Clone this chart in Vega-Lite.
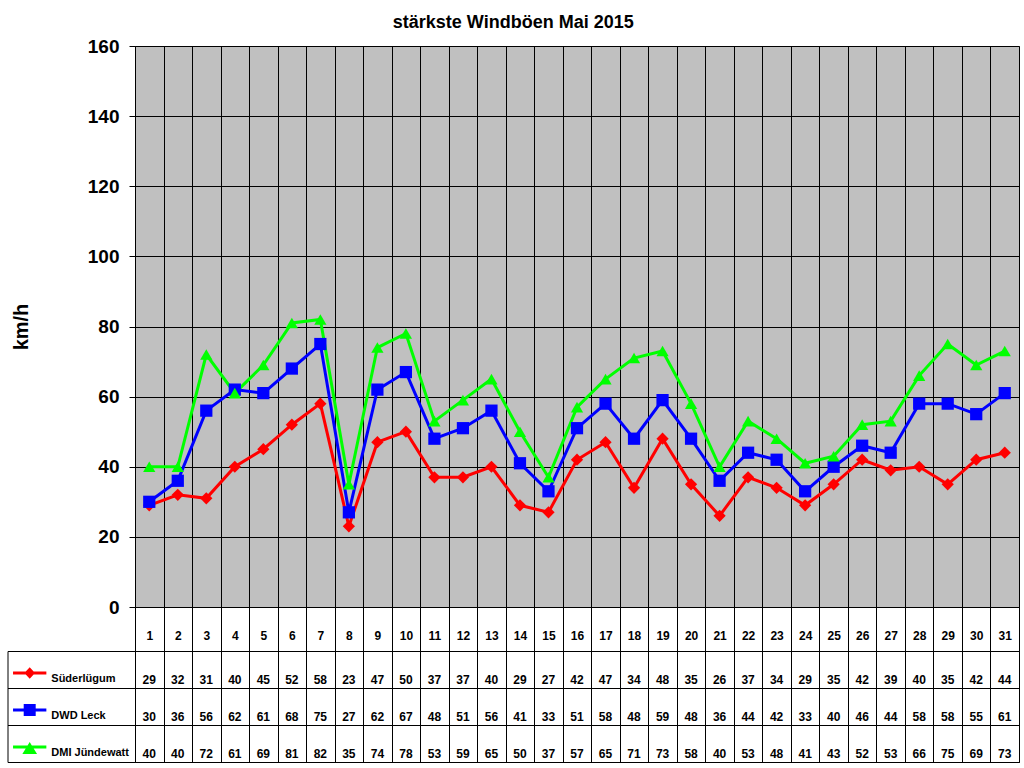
{
  "$schema": "https://vega.github.io/schema/vega-lite/v6.json",
  "padding": {"left": 6, "top": 13, "right": 6, "bottom": 4},
  "background": "white",
  "bounds": "flush",
  "spacing": 44,
  "title": {"text": "stärkste Windböen Mai 2015", "font": "Liberation Sans", "fontSize": 18, "fontWeight": "bold", "color": "black", "anchor": "middle", "offset": 5},
  "resolve": {"scale": {"shape": "independent"}, "legend": {"color": "independent", "shape": "independent"}},
  "config": {
    "font": "Liberation Sans",
    "axis": {"gridColor": "black", "gridOpacity": 1, "gridWidth": 1, "domainColor": "black", "tickColor": "black", "labelColor": "black", "titleColor": "black"}
  },
  "datasets": {
    "wind": [
      {"day": 1, "station": "Süderlügum", "kmh": 29}, {"day": 2, "station": "Süderlügum", "kmh": 32}, {"day": 3, "station": "Süderlügum", "kmh": 31}, {"day": 4, "station": "Süderlügum", "kmh": 40}, {"day": 5, "station": "Süderlügum", "kmh": 45}, {"day": 6, "station": "Süderlügum", "kmh": 52}, {"day": 7, "station": "Süderlügum", "kmh": 58}, {"day": 8, "station": "Süderlügum", "kmh": 23}, {"day": 9, "station": "Süderlügum", "kmh": 47}, {"day": 10, "station": "Süderlügum", "kmh": 50}, {"day": 11, "station": "Süderlügum", "kmh": 37}, {"day": 12, "station": "Süderlügum", "kmh": 37}, {"day": 13, "station": "Süderlügum", "kmh": 40}, {"day": 14, "station": "Süderlügum", "kmh": 29}, {"day": 15, "station": "Süderlügum", "kmh": 27}, {"day": 16, "station": "Süderlügum", "kmh": 42}, {"day": 17, "station": "Süderlügum", "kmh": 47}, {"day": 18, "station": "Süderlügum", "kmh": 34}, {"day": 19, "station": "Süderlügum", "kmh": 48}, {"day": 20, "station": "Süderlügum", "kmh": 35}, {"day": 21, "station": "Süderlügum", "kmh": 26}, {"day": 22, "station": "Süderlügum", "kmh": 37}, {"day": 23, "station": "Süderlügum", "kmh": 34}, {"day": 24, "station": "Süderlügum", "kmh": 29}, {"day": 25, "station": "Süderlügum", "kmh": 35}, {"day": 26, "station": "Süderlügum", "kmh": 42}, {"day": 27, "station": "Süderlügum", "kmh": 39}, {"day": 28, "station": "Süderlügum", "kmh": 40}, {"day": 29, "station": "Süderlügum", "kmh": 35}, {"day": 30, "station": "Süderlügum", "kmh": 42}, {"day": 31, "station": "Süderlügum", "kmh": 44},
      {"day": 1, "station": "DWD Leck", "kmh": 30}, {"day": 2, "station": "DWD Leck", "kmh": 36}, {"day": 3, "station": "DWD Leck", "kmh": 56}, {"day": 4, "station": "DWD Leck", "kmh": 62}, {"day": 5, "station": "DWD Leck", "kmh": 61}, {"day": 6, "station": "DWD Leck", "kmh": 68}, {"day": 7, "station": "DWD Leck", "kmh": 75}, {"day": 8, "station": "DWD Leck", "kmh": 27}, {"day": 9, "station": "DWD Leck", "kmh": 62}, {"day": 10, "station": "DWD Leck", "kmh": 67}, {"day": 11, "station": "DWD Leck", "kmh": 48}, {"day": 12, "station": "DWD Leck", "kmh": 51}, {"day": 13, "station": "DWD Leck", "kmh": 56}, {"day": 14, "station": "DWD Leck", "kmh": 41}, {"day": 15, "station": "DWD Leck", "kmh": 33}, {"day": 16, "station": "DWD Leck", "kmh": 51}, {"day": 17, "station": "DWD Leck", "kmh": 58}, {"day": 18, "station": "DWD Leck", "kmh": 48}, {"day": 19, "station": "DWD Leck", "kmh": 59}, {"day": 20, "station": "DWD Leck", "kmh": 48}, {"day": 21, "station": "DWD Leck", "kmh": 36}, {"day": 22, "station": "DWD Leck", "kmh": 44}, {"day": 23, "station": "DWD Leck", "kmh": 42}, {"day": 24, "station": "DWD Leck", "kmh": 33}, {"day": 25, "station": "DWD Leck", "kmh": 40}, {"day": 26, "station": "DWD Leck", "kmh": 46}, {"day": 27, "station": "DWD Leck", "kmh": 44}, {"day": 28, "station": "DWD Leck", "kmh": 58}, {"day": 29, "station": "DWD Leck", "kmh": 58}, {"day": 30, "station": "DWD Leck", "kmh": 55}, {"day": 31, "station": "DWD Leck", "kmh": 61},
      {"day": 1, "station": "DMI Jündewatt", "kmh": 40}, {"day": 2, "station": "DMI Jündewatt", "kmh": 40}, {"day": 3, "station": "DMI Jündewatt", "kmh": 72}, {"day": 4, "station": "DMI Jündewatt", "kmh": 61}, {"day": 5, "station": "DMI Jündewatt", "kmh": 69}, {"day": 6, "station": "DMI Jündewatt", "kmh": 81}, {"day": 7, "station": "DMI Jündewatt", "kmh": 82}, {"day": 8, "station": "DMI Jündewatt", "kmh": 35}, {"day": 9, "station": "DMI Jündewatt", "kmh": 74}, {"day": 10, "station": "DMI Jündewatt", "kmh": 78}, {"day": 11, "station": "DMI Jündewatt", "kmh": 53}, {"day": 12, "station": "DMI Jündewatt", "kmh": 59}, {"day": 13, "station": "DMI Jündewatt", "kmh": 65}, {"day": 14, "station": "DMI Jündewatt", "kmh": 50}, {"day": 15, "station": "DMI Jündewatt", "kmh": 37}, {"day": 16, "station": "DMI Jündewatt", "kmh": 57}, {"day": 17, "station": "DMI Jündewatt", "kmh": 65}, {"day": 18, "station": "DMI Jündewatt", "kmh": 71}, {"day": 19, "station": "DMI Jündewatt", "kmh": 73}, {"day": 20, "station": "DMI Jündewatt", "kmh": 58}, {"day": 21, "station": "DMI Jündewatt", "kmh": 40}, {"day": 22, "station": "DMI Jündewatt", "kmh": 53}, {"day": 23, "station": "DMI Jündewatt", "kmh": 48}, {"day": 24, "station": "DMI Jündewatt", "kmh": 41}, {"day": 25, "station": "DMI Jündewatt", "kmh": 43}, {"day": 26, "station": "DMI Jündewatt", "kmh": 52}, {"day": 27, "station": "DMI Jündewatt", "kmh": 53}, {"day": 28, "station": "DMI Jündewatt", "kmh": 66}, {"day": 29, "station": "DMI Jündewatt", "kmh": 75}, {"day": 30, "station": "DMI Jündewatt", "kmh": 69}, {"day": 31, "station": "DMI Jündewatt", "kmh": 73}
    ]
  },
  "vconcat": [
    {
      "width": 884,
      "height": 561,
      "data": {"name": "wind"},
      "view": {"fill": "#C0C0C0", "stroke": "#808080"},
      "encoding": {
        "x": {
          "field": "day", "type": "ordinal",
          "scale": {"type": "band", "paddingInner": 0, "paddingOuter": 0},
          "axis": {"title": null, "labelAngle": 0, "tickBand": "extent", "tickSize": 44, "grid": true, "labelPadding": -21,
                   "labelFont": "Liberation Sans", "labelFontSize": 12, "labelFontWeight": "bold", "labelBaseline": "top"}
        },
        "y": {
          "field": "kmh", "type": "quantitative",
          "scale": {"domain": [0, 160], "nice": false},
          "axis": {"values": [0, 20, 40, 60, 80, 100, 120, 140, 160], "title": "km/h", "titleFontSize": 20, "titleFontWeight": "bold", "titlePadding": 56,
                   "labelFontSize": 19, "labelFontWeight": "bold", "labelPadding": 10, "tickSize": 6, "grid": true}
        },
        "color": {
          "field": "station", "type": "nominal",
          "scale": {"domain": ["Süderlügum", "DWD Leck", "DMI Jündewatt"], "range": ["#FF0000", "#0000FF", "#00FF00"]},
          "legend": null
        }
      },
      "layer": [
        {"mark": {"type": "line", "strokeWidth": 3}},
        {
          "mark": {"type": "point", "filled": true, "opacity": 1, "size": 150},
          "encoding": {
            "shape": {"field": "station", "type": "nominal", "scale": {"domain": ["Süderlügum", "DWD Leck", "DMI Jündewatt"], "range": ["diamond", "square", "triangle-up"]}, "legend": null}
          }
        }
      ]
    },
    {
      "width": 884,
      "height": 111,
      "data": {"name": "wind"},
      "view": {"fill": "white", "stroke": "black"},
      "encoding": {
        "x": {
          "field": "day", "type": "ordinal",
          "scale": {"type": "band", "paddingInner": 0, "paddingOuter": 0},
          "axis": {"title": null, "labels": false, "ticks": false, "domain": false, "grid": true, "tickBand": "extent"}
        },
        "y": {
          "field": "station", "type": "nominal",
          "scale": {"type": "band", "domain": ["Süderlügum", "DWD Leck", "DMI Jündewatt"], "paddingInner": 0, "paddingOuter": 0},
          "axis": {"title": null, "labels": false, "ticks": true, "tickBand": "extent", "tickSize": -127.5, "offset": 127.5, "grid": true, "domain": true}
        }
      },
      "layer": [
        {
          "mark": {"type": "text", "font": "Liberation Sans", "fontSize": 12, "fontWeight": "bold", "color": "black", "baseline": "middle", "dy": 10.5},
          "encoding": {"text": {"field": "kmh", "type": "quantitative"}}
        },
        {
          "mark": {"type": "point", "filled": true, "opacity": 0},
          "encoding": {
            "color": {
              "field": "station", "type": "nominal",
              "scale": {"domain": ["Süderlügum", "DWD Leck", "DMI Jündewatt"], "range": ["#FF0000", "#0000FF", "#00FF00"]},
              "legend": {
                "orient": "none", "legendX": -122.3, "legendY": 5, "title": null, "direction": "vertical", "padding": 0,
                "symbolSize": 1110, "symbolStrokeWidth": 0, "symbolOpacity": 1, "rowPadding": 3, "labelOffset": 4.6, "labelBaseline": "top",
                "labelFont": "Liberation Sans", "labelFontSize": 11, "labelFontWeight": "bold", "labelColor": "black", "labelLimit": 200
              }
            },
            "shape": {
              "field": "station", "type": "nominal",
              "scale": {"domain": ["Süderlügum", "DWD Leck", "DMI Jündewatt"], "range": [
                "M0,-1L0,-1M0,1L0,1M-1,-0.09H1V0.09H-1ZM0,-0.35L0.32,0L0,0.35L-0.32,0Z",
                "M0,-1L0,-1M0,1L0,1M-1,-0.09H1V0.09H-1ZM-0.36,-0.36H0.36V0.36H-0.36Z",
                "M0,-1L0,-1M0,1L0,1M-1,-0.09H1V0.09H-1ZM0,-0.3L0.44,0.42H-0.44Z"
              ]},
              "legend": {
                "orient": "none", "legendX": -122.3, "legendY": 5, "title": null, "direction": "vertical", "padding": 0,
                "symbolSize": 1110, "symbolStrokeWidth": 0, "symbolOpacity": 1, "rowPadding": 3, "labelOffset": 4.6, "labelBaseline": "top",
                "labelFont": "Liberation Sans", "labelFontSize": 11, "labelFontWeight": "bold", "labelColor": "black", "labelLimit": 200
              }
            }
          }
        }
      ]
    }
  ]
}
